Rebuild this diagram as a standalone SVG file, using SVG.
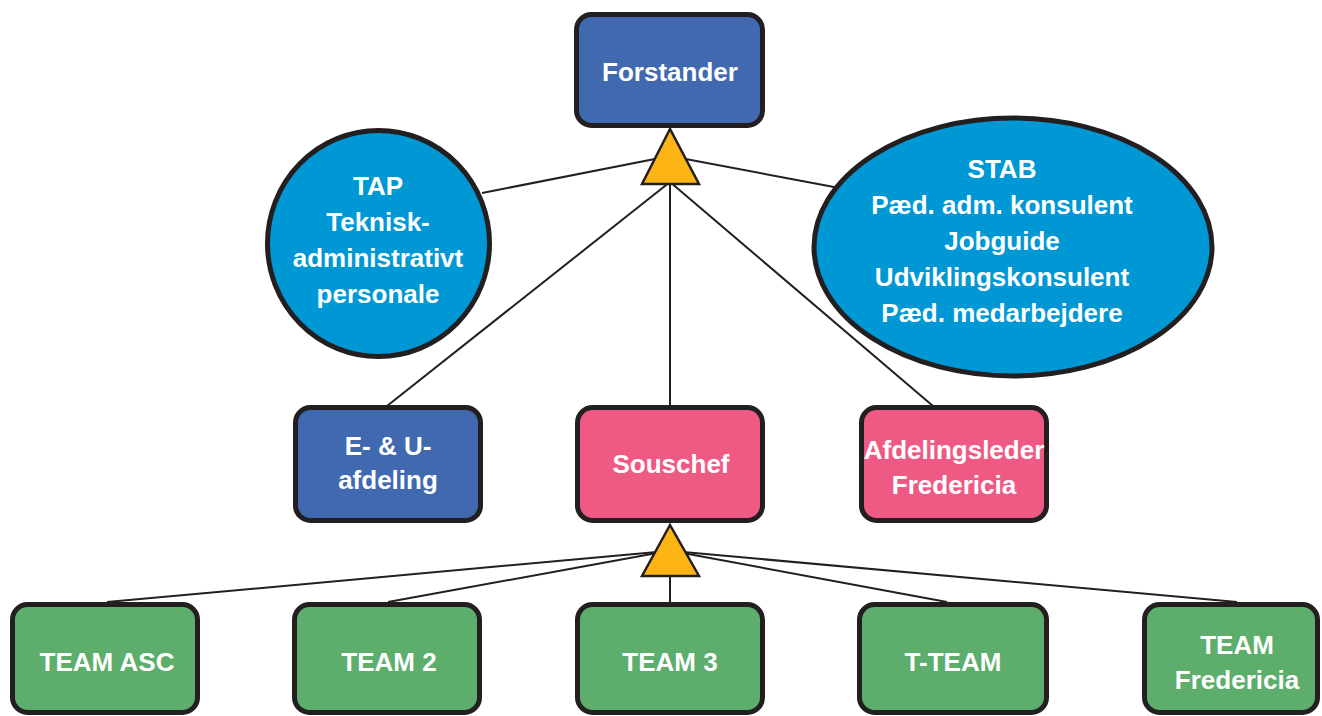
<svg xmlns="http://www.w3.org/2000/svg" width="1322" height="716" viewBox="0 0 1322 716">
<style>
  .box { stroke: #231F20; stroke-width: 5; }
  .blue { fill: #4169B0; }
  .pink { fill: #EF5A84; }
  .green { fill: #5DAE6C; }
  .cyan { fill: #0098D4; stroke: #231F20; stroke-width: 5; }
  .tri { fill: #FDB515; stroke: #231F20; stroke-width: 2.5; stroke-linejoin: miter; }
  .conn line { stroke: #231F20; stroke-width: 2; }
  text { font-family: "Liberation Sans", Arial, sans-serif; font-weight: bold; font-size: 26px; fill: #FFFFFF; text-anchor: middle; }
</style>
<rect width="1322" height="716" fill="#FFFFFF"/>
<g id="connectors" class="conn">
  <line x1="665" y1="157" x2="482" y2="193"/>
  <line x1="675" y1="157" x2="834" y2="187"/>
  <line x1="670" y1="182" x2="387" y2="406"/>
  <line x1="670" y1="182" x2="670" y2="406"/>
  <line x1="670" y1="182" x2="933" y2="406"/>
  <line x1="668" y1="551" x2="107" y2="602"/>
  <line x1="668" y1="551" x2="388" y2="602"/>
  <line x1="670" y1="574" x2="670" y2="602"/>
  <line x1="672" y1="551" x2="947" y2="602"/>
  <line x1="672" y1="551" x2="1237" y2="602"/>
</g>
<g id="triangle-top"><polygon class="tri" points="670,129 642,184 699,184"/></g>
<g id="triangle-bottom"><polygon class="tri" points="670,525 642,576 699,576"/></g>
<g id="forstander">
  <rect class="box blue" x="576.5" y="14.5" width="186" height="111" rx="15"/>
  <text x="670" y="81">Forstander</text>
</g>
<g id="tap">
  <ellipse class="cyan" cx="378.5" cy="243.5" rx="111" ry="113"/>
  <text x="378" y="195">TAP</text>
  <text x="378" y="231">Teknisk-</text>
  <text x="378" y="267">administrativt</text>
  <text x="378" y="303">personale</text>
</g>
<g id="stab">
  <ellipse class="cyan" cx="1013" cy="247" rx="199" ry="129"/>
  <text x="1002" y="178">STAB</text>
  <text x="1002" y="214">Pæd. adm. konsulent</text>
  <text x="1002" y="250">Jobguide</text>
  <text x="1002" y="286">Udviklingskonsulent</text>
  <text x="1002" y="322">Pæd. medarbejdere</text>
</g>
<g id="eu">
  <rect class="box blue" x="295.5" y="407.5" width="185" height="113" rx="15"/>
  <text x="388" y="455">E- &amp; U-</text>
  <text x="388" y="489">afdeling</text>
</g>
<g id="souschef">
  <rect class="box pink" x="577.5" y="407.5" width="185" height="113" rx="15"/>
  <text x="671" y="473">Souschef</text>
</g>
<g id="afdelingsleder">
  <rect class="box pink" x="861.5" y="407.5" width="185" height="113" rx="15"/>
  <text x="954" y="459">Afdelingsleder</text>
  <text x="954" y="494">Fredericia</text>
</g>
<g id="team-asc">
  <rect class="box green" x="12.5" y="604.5" width="185" height="108" rx="15"/>
  <text x="107" y="671">TEAM ASC</text>
</g>
<g id="team-2">
  <rect class="box green" x="294.5" y="604.5" width="185" height="108" rx="15"/>
  <text x="389" y="671">TEAM 2</text>
</g>
<g id="team-3">
  <rect class="box green" x="577.5" y="604.5" width="185" height="108" rx="15"/>
  <text x="670" y="671">TEAM 3</text>
</g>
<g id="t-team">
  <rect class="box green" x="859.5" y="604.5" width="187" height="108" rx="15"/>
  <text x="953" y="671">T-TEAM</text>
</g>
<g id="team-fredericia">
  <rect class="box green" x="1144.5" y="604.5" width="173" height="108" rx="15"/>
  <text x="1237" y="654">TEAM</text>
  <text x="1237" y="689">Fredericia</text>
</g>
</svg>
